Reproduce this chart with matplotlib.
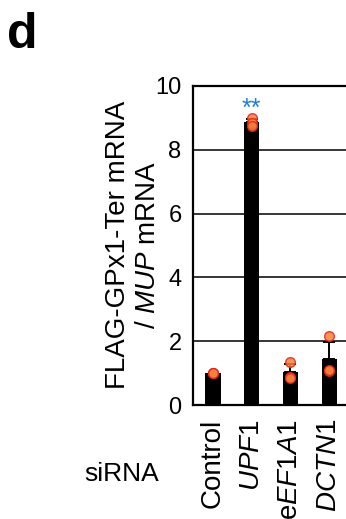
import matplotlib
matplotlib.use('Agg')
import matplotlib.pyplot as plt
import numpy as np

plt.rcParams['font.family'] = ['Liberation Sans', 'DejaVu Sans']
plt.rcParams['mathtext.fontset'] = 'custom'
plt.rcParams['mathtext.rm'] = 'Liberation Sans'
plt.rcParams['mathtext.it'] = 'Liberation Sans:italic'

# data
labels = ['Control', r'$\it{UPF1}$', r'e$\it{EF1A1}$', r'$\it{DCTN1}$']
means = [1.0, 8.87, 1.02, 1.45]
errs = [0.0, 0.10, 0.25, 0.52]
reps = [[1.0, 1.0, 1.0],
        [9.0, 8.85, 8.75],
        [1.35, 0.88, 0.84],
        [2.17, 1.08, 1.10]]
yticks = [0, 2, 4, 6, 8, 10]

W, H = 346, 519
fig = plt.figure(figsize=(W/100, H/100), dpi=100)
ax = fig.add_axes([192.7/W, 1 - 405/H, (420 - 192.7)/W, (405 - 86)/H])

x = np.arange(len(labels))
ax.bar(x, means, width=0.39, color='black', zorder=3)
ax.errorbar(x[1:], means[1:], yerr=[np.zeros(len(errs) - 1), errs[1:]],
            fmt='none', ecolor='black', elinewidth=1.4, capsize=4.5,
            capthick=1.4, zorder=3)
for i, r in enumerate(reps):
    ax.plot([x[i]]*len(r), r, 'o', ms=7, mfc='#f4823c', mec='#e8231a',
            mew=1.0, alpha=0.85, zorder=4)

ax.text(x[1], 8.9, '**', color='#1f7fd4', fontsize=18, ha='center',
        va='bottom', zorder=5)

ax.set_ylim(0, 10)
ax.set_xlim(-0.525, (420 - 213)/38.7)
ax.set_yticks(yticks)
ax.set_yticklabels([str(t) for t in yticks], fontsize=17)
ax.set_xticks(x)
ax.set_xticklabels(labels, rotation=90, fontsize=20)
ax.tick_params(axis='y', length=0, pad=8)
ax.tick_params(axis='x', length=0, pad=10)
ax.yaxis.grid(True, color='black', linewidth=1.1, zorder=1)
ax.set_axisbelow(True)
for s in ['left', 'bottom', 'top']:
    ax.spines[s].set_linewidth(1.6)
ax.spines['right'].set_visible(False)

fig.text(133/W, 1 - 245/H, 'FLAG-GPx1-Ter mRNA\n/ $\\it{MUP}$ mRNA',
         fontsize=20, rotation=90, ha='center', va='center',
         multialignment='center', linespacing=1.2)

fig.text(122/W, 1 - 474/H, 'siRNA', fontsize=19, ha='center', va='center')
fig.text(7/W, 1 - 48/H, 'd', fontsize=36, fontweight='bold', ha='left',
         va='baseline')

fig.savefig('out.png', dpi=100)
